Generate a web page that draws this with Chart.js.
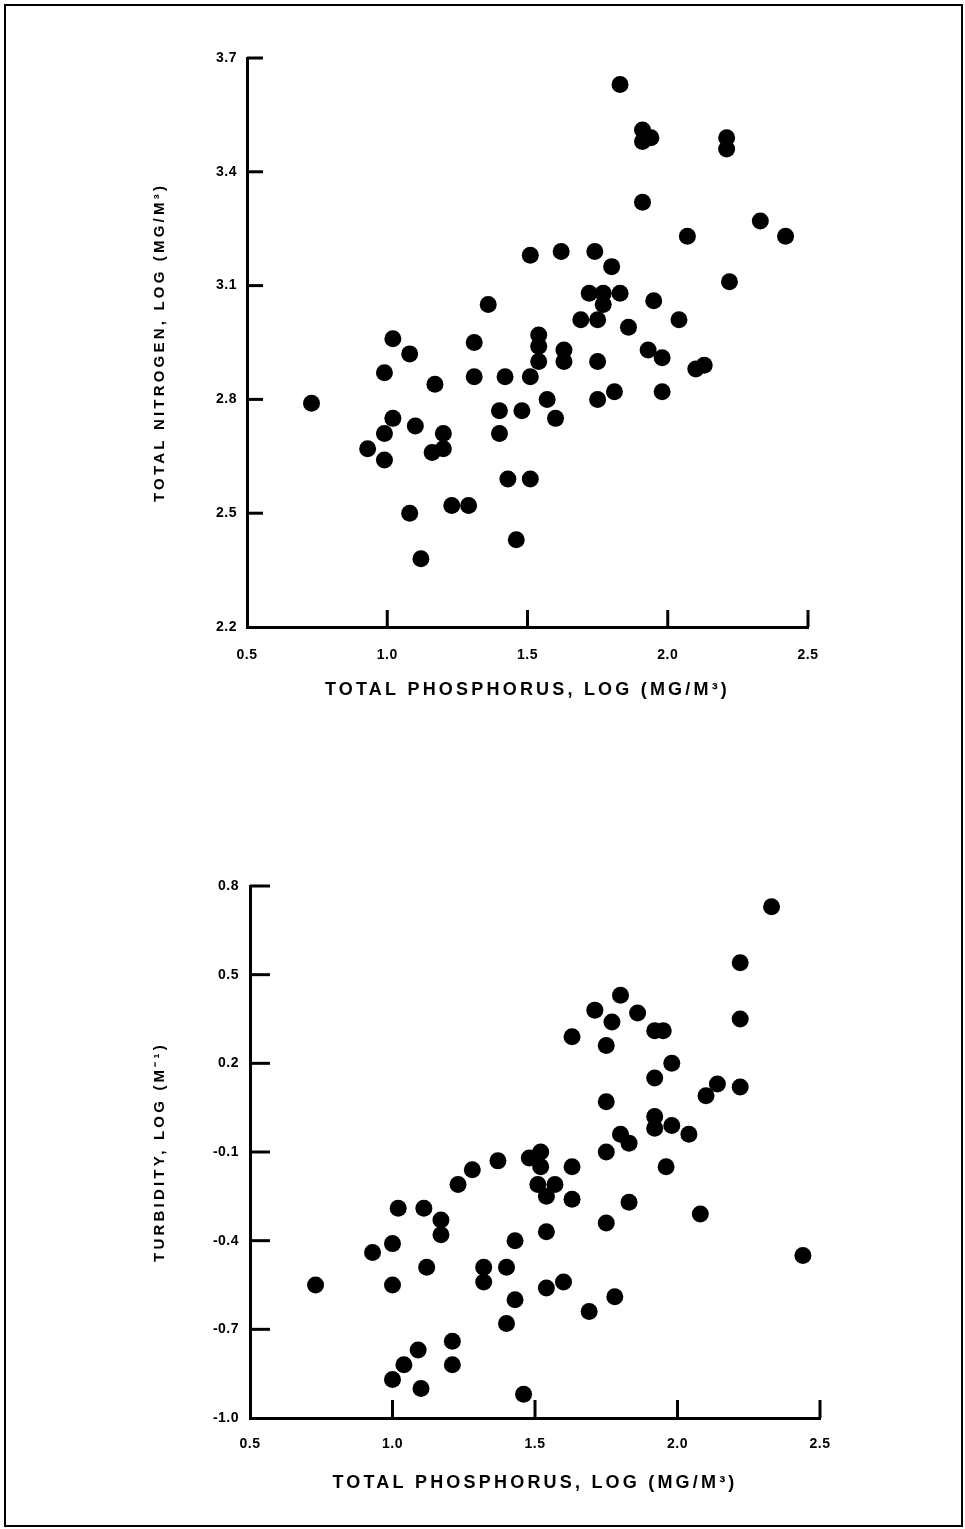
<!DOCTYPE html>
<html><head><meta charset="utf-8">
<script src="https://cdn.jsdelivr.net/npm/chart.js@4.4.0/dist/chart.umd.min.js"></script>
<style>
html,body{margin:0;padding:0;background:#fff;}
#wrap{position:relative;width:965px;height:1529px;overflow:hidden;background:#fff;}
#c1{position:absolute;left:0;top:0;}
#c2{position:absolute;left:0;top:760px;}
#frame{position:absolute;left:4px;top:4px;width:955px;height:1519px;border:2px solid #000;pointer-events:none;}
</style></head>
<body><div id="wrap"><canvas id="c1" width="965" height="760"></canvas><canvas id="c2" width="965" height="769"></canvas><div id="frame"></div></div>
<script>
// Top panel: total phosphorus (log) vs total nitrogen (log)
const phosphorusTop = [0.73,0.93,0.99,0.99,0.99,1.02,1.02,1.08,1.10,1.08,1.12,1.17,1.16,1.20,1.20,1.23,1.29,1.31,1.31,1.36,1.42,1.40,1.40,1.43,1.46,1.48,1.51,1.51,1.51,1.54,1.54,1.54,1.57,1.60,1.62,1.63,1.63,1.69,1.72,1.74,1.75,1.75,1.75,1.77,1.77,1.80,1.83,1.81,1.83,1.86,1.91,1.91,1.94,1.91,1.93,1.95,1.98,1.98,2.04,2.07,2.10,2.13,2.21,2.21,2.22,2.33,2.42];
const nitrogen = [2.79,2.67,2.64,2.71,2.87,2.96,2.75,2.92,2.73,2.50,2.38,2.84,2.66,2.71,2.67,2.52,2.52,2.95,2.86,3.05,2.86,2.77,2.71,2.59,2.43,2.77,3.18,2.86,2.59,2.97,2.94,2.90,2.80,2.75,3.19,2.93,2.90,3.01,3.08,3.19,3.01,2.90,2.80,3.08,3.05,3.15,3.08,2.82,3.63,2.99,3.51,3.48,3.49,3.32,2.93,3.06,2.91,2.82,3.01,3.23,2.88,2.89,3.49,3.46,3.11,3.27,3.23];
// Bottom panel: total phosphorus (log) vs turbidity (log)
const phosphorusBottom = [0.73,0.93,1.00,1.00,1.02,1.00,1.04,1.09,1.10,1.11,1.12,1.17,1.17,1.21,1.21,1.23,1.28,1.32,1.32,1.37,1.40,1.40,1.43,1.43,1.46,1.48,1.52,1.52,1.51,1.54,1.57,1.54,1.54,1.60,1.63,1.63,1.63,1.69,1.71,1.75,1.75,1.75,1.75,1.77,1.78,1.80,1.80,1.83,1.83,1.86,1.92,1.95,1.92,1.92,1.92,1.96,1.98,1.98,2.04,2.08,2.10,2.14,2.22,2.22,2.22,2.33,2.44];
const turbidity = [-0.55,-0.44,-0.41,-0.55,-0.29,-0.87,-0.82,-0.77,-0.90,-0.29,-0.49,-0.33,-0.38,-0.74,-0.82,-0.21,-0.16,-0.49,-0.54,-0.13,-0.49,-0.68,-0.40,-0.60,-0.92,-0.12,-0.10,-0.15,-0.21,-0.25,-0.21,-0.37,-0.56,-0.54,0.29,-0.15,-0.26,-0.64,0.38,0.26,0.07,-0.10,-0.34,0.34,-0.59,0.43,-0.04,-0.07,-0.27,0.37,0.31,0.31,0.15,0.02,-0.02,-0.15,0.20,-0.01,-0.04,-0.31,0.09,0.13,0.54,0.35,0.12,0.73,-0.45];

const xTicks = [0.5, 1.0, 1.5, 2.0, 2.5];
const nitrogenTicks = [2.2, 2.5, 2.8, 3.1, 3.4, 3.7];
const turbidityTicks = [-1.0, -0.7, -0.4, -0.1, 0.2, 0.5, 0.8];
const xTitle = 'TOTAL PHOSPHORUS, LOG (MG/M³)';
const nitrogenTitle = 'TOTAL NITROGEN, LOG (MG/M³)';
const turbidityTitle = 'TURBIDITY, LOG (M⁻¹)';

const styler = {
  id: 'styler',
  beforeDraw(chart) { chart.ctx.letterSpacing = '3.2px'; },
  beforeDatasetsDraw(chart) { chart.ctx.letterSpacing = '0.5px'; },
  afterDraw(chart, args, opts) {
    const ctx = chart.ctx, a = chart.chartArea;
    const xs = chart.scales.x, ys = chart.scales.y;
    ctx.save();
    ctx.strokeStyle = '#000'; ctx.lineWidth = 3; ctx.lineCap = 'butt';
    xs.ticks.forEach(t => {
      if (t.value === xs.min) return;
      const px = xs.getPixelForValue(t.value);
      ctx.beginPath(); ctx.moveTo(px, a.bottom); ctx.lineTo(px, a.bottom - opts.xLen); ctx.stroke();
    });
    ys.ticks.forEach(t => {
      if (t.value === ys.min) return;
      const py = ys.getPixelForValue(t.value);
      ctx.beginPath(); ctx.moveTo(a.left, py); ctx.lineTo(a.left + opts.yLen, py); ctx.stroke();
    });
    ctx.restore();
    ctx.letterSpacing = '0px';
  }
};

const tickFont = {family: "'Liberation Sans', Arial, sans-serif", size: 14, weight: 'bold'};

function makeChart(canvas, xs, ys, yMin, yMax, yTicks, yTitle, L) {
  return new Chart(canvas, {
    type: 'scatter',
    data: {datasets: [{
      data: xs.map((x, i) => ({x: x, y: ys[i]})),
      backgroundColor: '#000', borderWidth: 0,
      pointRadius: 8.5, pointHoverRadius: 8.5
    }]},
    options: {
      responsive: false, animation: false, devicePixelRatio: 1,
      layout: {padding: {left: L.padLeft, right: L.padRight, top: L.padTop, bottom: 0}},
      plugins: {legend: {display: false}, tooltip: {enabled: false}, styler: {xLen: L.xTick, yLen: L.yTick}},
      scales: {
        x: {
          type: 'linear', position: 'bottom', min: 0.5, max: 2.5,
          afterBuildTicks: s => { s.ticks = xTicks.map(v => ({value: v})); },
          afterFit: s => { s.height = L.xHeight; },
          grid: {display: false, drawTicks: false},
          border: {display: true, width: 3, color: '#000'},
          ticks: {z: 1, padding: L.xLabelPad, color: '#000', font: tickFont, maxRotation: 0, autoSkip: false,
                  callback: v => Number(v).toFixed(1)},
          title: {display: true, text: xTitle, color: '#000',
                  font: {family: "'Liberation Sans', Arial, sans-serif", size: 18, weight: 'bold'},
                  padding: {top: 0, bottom: L.xTitlePad}}
        },
        y: {
          type: 'linear', position: 'left', min: yMin, max: yMax,
          afterBuildTicks: s => { s.ticks = yTicks.map(v => ({value: v})); },
          afterFit: s => { s.width = L.yWidth; },
          grid: {display: false, drawTicks: false},
          border: {display: true, width: 3, color: '#000'},
          ticks: {z: 1, padding: L.yLabelPad, color: '#000', font: tickFont, autoSkip: false,
                  callback: v => Number(v).toFixed(1)},
          title: {display: true, text: yTitle, color: '#000',
                  font: {family: "'Liberation Sans', Arial, sans-serif", size: 15, weight: 'bold'},
                  padding: {top: L.yTitlePad, bottom: 0}}
        }
      }
    },
    plugins: [styler]
  });
}

makeChart(document.getElementById('c1'), phosphorusTop, nitrogen, 2.2, 3.7, nitrogenTicks, nitrogenTitle,
  {padLeft: 140, padRight: 157, padTop: 58, xHeight: 133, yWidth: 107, xLabelPad: 20, xTitlePad: 59,
   yTitlePad: 11, yLabelPad: 10, xTick: 17, yTick: 16});
makeChart(document.getElementById('c2'), phosphorusBottom, turbidity, -1.0, 0.8, turbidityTicks, turbidityTitle,
  {padLeft: 140, padRight: 145, padTop: 126, xHeight: 111, yWidth: 110, xLabelPad: 18, xTitlePad: 35,
   yTitlePad: 11, yLabelPad: 11, xTick: 18, yTick: 20});
</script>
</body></html>
